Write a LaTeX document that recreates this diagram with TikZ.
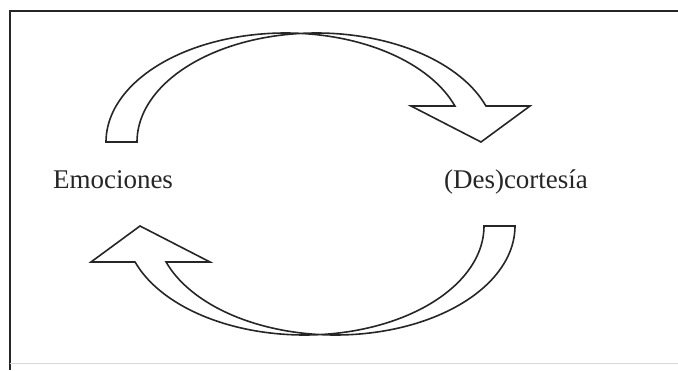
\documentclass[tikz,border=0pt]{standalone}
\usepackage{fontspec}
\newfontfamily\garfont{Liberation Serif}
\begin{document}
\begin{tikzpicture}[x=1pt,y=-1pt,
  frameline/.style={line width=1.3pt,draw=black!85},
  curvedarrow/.style={line width=1.6pt,draw=black!85,fill=white,line join=miter},
  label/.style={font=\garfont\fontsize{27}{32}\selectfont,text=black!85,inner sep=0pt,anchor=base}]
\useasboundingbox (0,0) rectangle (678,370);
% frame
\draw[frameline] (10,370) -- (10,11) -- (678,11);
\draw[line width=0.8pt,draw=black!15] (10,363) -- (678,363);
% arrow shape (top), reused rotated for bottom
\newcommand{\curvedarrowpath}{%
  (106,142) -- plot[domain=180:340.7,samples=80,smooth] ({285.5+179.5*cos(\x)},{142+109*sin(\x)})
  -- (411,106) -- (481,142) -- (530,106) -- (486,106)
  -- plot[domain=340.7:180,samples=80,smooth] ({316.5+179.5*cos(\x)},{142+109*sin(\x)})
  -- cycle}
\draw[curvedarrow] \curvedarrowpath;
\begin{scope}[rotate around={180:(310.5,184)}]
\draw[curvedarrow] \curvedarrowpath;
\end{scope}
% labels
\node[label] (emo) at (113,188) {Emociones};
\node[label] (des) at (516,188) {(Des)cortesía};
\end{tikzpicture}
\end{document}
